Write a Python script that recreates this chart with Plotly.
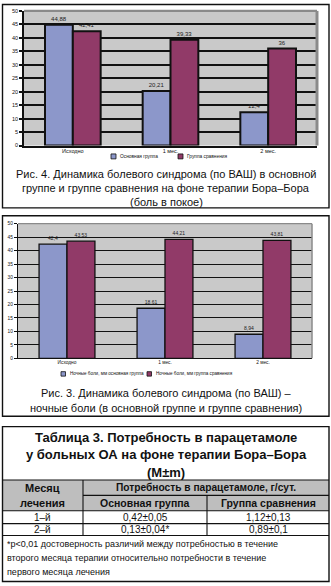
import plotly.graph_objects as go

W, H = 331, 586

# ---------------- data ----------------
categories = ["Исходно", "1 мес.", "2 мес."]
y_ticks = [0, 5, 10, 15, 20, 25, 30, 35, 40, 45, 50]

fig4_names = ["Основная группа", "Группа сравнения"]
fig4_main = [44.88, 20.21, 12.4]
fig4_comp = [42.41, 39.33, 36]
fig4_caption = ["Рис. 4. Динамика болевого синдрома (по ВАШ) в основной",
                "группе и группе сравнения на фоне терапии Бора–Бора",
                "(боль в покое)"]

fig3_names = ["Ночные боли, мм основная группа", "Ночные боли, мм группа сравнения"]
fig3_main = [42.4, 18.61, 8.94]
fig3_comp = [43.53, 44.21, 43.81]
fig3_caption = ["Рис. 3. Динамика болевого синдрома (по ВАШ) –",
                "ночные боли (в основной группе и группе сравнения)"]

table_title = ["Таблица 3. Потребность в парацетамоле",
               "у больных ОА на фоне терапии Бора–Бора",
               "(M±m)"]
table_month_header = ["Месяц", "лечения"]
table_need_header = "Потребность в парацетамоле, г/сут."
table_groups = ["Основная группа", "Группа сравнения"]
table_months = ["1–й", "2–й"]
table_main = ["0,42±0,05", "0,13±0,04*"]
table_comp = ["1,12±0,13", "0,89±0,1"]
footnote = ["*p<0,01 достоверность различий между потребностью в течение",
            "второго месяца терапии относительно потребности в течение",
            "первого месяца лечения"]

# ---------------- styles ----------------
BLUE = "#8C97CA"
MAROON = "#913A68"
PLOT_BG = "#C9C9C9"
HEADER_BG = "#BEBEBE"
SANS = "Liberation Sans, Arial, sans-serif"


def px(x):
    return x / W


def py(y):
    return 1 - y / H


def fmt(v):
    return f"{v:g}".replace(".", ",")


fig = go.Figure()

# chart 1 (Рис. 4)
for vals, col, name in [(fig4_main, BLUE, fig4_names[0]), (fig4_comp, MAROON, fig4_names[1])]:
    fig.add_trace(go.Bar(
        x=categories, y=vals, name=name, xaxis="x", yaxis="y",
        marker=dict(color=col, line=dict(color="#111", width=2)),
        text=[fmt(v) for v in vals], textposition="outside",
        textfont=dict(size=6, color="#222", family=SANS),
        cliponaxis=False, showlegend=False))

# chart 2 (Рис. 3)
for vals, col, name in [(fig3_main, BLUE, fig3_names[0]), (fig3_comp, MAROON, fig3_names[1])]:
    fig.add_trace(go.Bar(
        x=categories, y=vals, name=name, xaxis="x2", yaxis="y2",
        marker=dict(color=col, line=dict(color="#111", width=1.3)),
        text=[fmt(v) for v in vals], textposition="outside",
        textfont=dict(size=5, color="#222", family=SANS),
        cliponaxis=False, showlegend=False))

common_x = dict(showgrid=False, showline=True, linecolor="#111", ticks="",
                fixedrange=True, color="#111", ticklabelstandoff=-1)
common_y = dict(range=[0, 50], tickvals=y_ticks, showgrid=True, gridcolor="#111",
                zeroline=False, showline=True, linecolor="#111", ticks="outside",
                tickcolor="#111", ticklen=3, fixedrange=True, color="#111")

fig.update_layout(
    width=W, height=H, margin=dict(l=0, r=0, t=0, b=0),
    paper_bgcolor="white", plot_bgcolor=PLOT_BG,
    barmode="group", bargap=0.43, bargroupgap=0,
    showlegend=False,
    xaxis=dict(domain=[px(24), px(317)], anchor="y", linewidth=1.5,
               tickfont=dict(size=5.5, family=SANS), **common_x),
    yaxis=dict(domain=[py(144), py(8)], anchor="x", gridwidth=2.4, linewidth=1.5,
               tickwidth=1.5, tickfont=dict(size=5.5, family=SANS), **common_y),
    xaxis2=dict(domain=[px(18), px(312)], anchor="y2", linewidth=1.2,
                tickfont=dict(size=4.8, family=SANS), **common_x),
    yaxis2=dict(domain=[py(359), py(223)], anchor="x2", gridwidth=1, linewidth=1.2,
                tickwidth=1, tickfont=dict(size=4.8, family=SANS), **common_y),
)

shapes = []
annotations = []


def line(x0, y0, x1, y1, color="#111", width=1.2):
    shapes.append(dict(type="line", xref="paper", yref="paper",
                       x0=px(x0), y0=py(y0), x1=px(x1), y1=py(y1),
                       line=dict(color=color, width=width)))


def rect(x0, y0, x1, y1, fill=None, color="#111", width=1.2):
    shapes.append(dict(type="rect", xref="paper", yref="paper",
                       x0=px(x0), y0=py(y0), x1=px(x1), y1=py(y1),
                       fillcolor=fill if fill else "rgba(0,0,0,0)",
                       line=dict(color=color, width=width), layer="below" if fill else "above"))


def text(x, y, s, size, family=SANS, anchor="center", bold=False, color="#111"):
    annotations.append(dict(xref="paper", yref="paper", x=px(x), y=py(y), text=s,
                            showarrow=False, xanchor=anchor, yanchor="middle",
                            font=dict(size=size, family=family, color=color,
                                      weight="bold" if bold else "normal")))


# plot area borders (gray top/right)
line(24, 8, 317, 8, color="#8A8A8A", width=2.4)
line(317, 8, 317, 144, color="#8A8A8A", width=3)
line(18, 223, 312, 223, color="#8A8A8A", width=1.3)
line(312, 223, 312, 359, color="#8A8A8A", width=1.5)

# outer frames
rect(2.5, 1.5, 329, 207, width=1.4)
rect(2.5, 215, 329, 417.5, width=1.4)
rect(2.5, 428, 329, 584.5, width=1.4)

# legends (manual)
rect(111, 152.5, 116, 157.5, fill=BLUE, width=0.8)
text(117.5, 155, fig4_names[0], 4.8, anchor="left")
rect(178, 152.5, 183, 157.5, fill=MAROON, width=0.8)
text(184.5, 155, fig4_names[1], 4.8, anchor="left")

rect(61, 372.5, 65.5, 377, fill=BLUE, width=0.8)
text(67.5, 374.8, fig3_names[0], 4.6, anchor="left")
rect(147, 372.5, 151.5, 377, fill=MAROON, width=0.8)
text(153.5, 374.8, fig3_names[1], 4.6, anchor="left")

# captions
for i, s in enumerate(fig4_caption):
    text(166, 173 + 14 * i, s, 11)
for i, s in enumerate(fig3_caption):
    text(166, 394 + 15 * i, s, 11)

# table
rect(2.5, 482, 329, 513, fill=HEADER_BG, width=0)
for y in (482, 513, 526, 538):
    line(2.5, y, 329, y, width=1.1)
line(83, 497.5, 329, 497.5, width=1.1)
line(83, 482, 83, 538, width=1.1)
line(207, 497.5, 207, 538, width=1.1)

for i, s in enumerate(table_title):
    text(166, 438.5 + 18 * i, s, 13, bold=True)

text(42.5, 490, table_month_header[0], 11, bold=True)
text(42.5, 505, table_month_header[1], 11, bold=True)
text(206, 490, table_need_header, 10.2, bold=True)
text(145, 505, table_groups[0], 10.5, bold=True)
text(268, 505, table_groups[1], 10.5, bold=True)
for i in range(2):
    yy = 519.8 + 12.3 * i
    text(42.5, yy, table_months[i], 10)
    text(145, yy, table_main[i], 10)
    text(268, yy, table_comp[i], 10)

for i, s in enumerate(footnote):
    text(5, 547 + 14 * i, s, 9, anchor="left")

fig.update_layout(shapes=shapes, annotations=annotations)
fig.write_html("out.html")
